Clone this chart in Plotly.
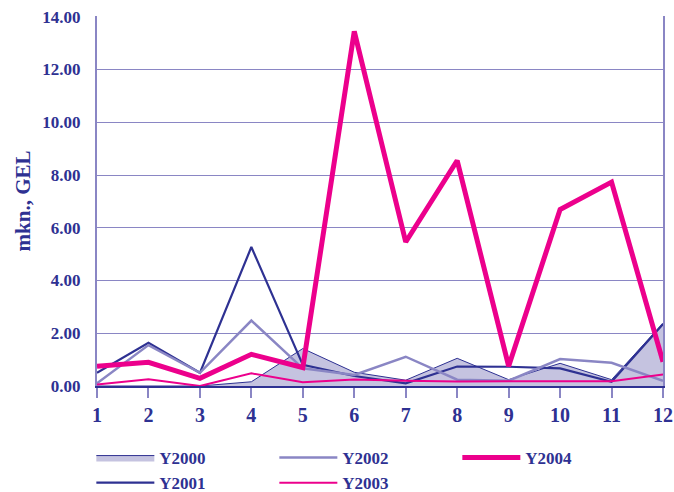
import plotly.graph_objects as go

months = [1, 2, 3, 4, 5, 6, 7, 8, 9, 10, 11, 12]
y2000 = [0.0, 0.0, 0.0, 0.16, 1.42, 0.52, 0.22, 1.05, 0.24, 0.86, 0.24, 2.38]
y2001 = [0.50, 1.64, 0.50, 5.27, 0.80, 0.38, 0.10, 0.74, 0.73, 0.67, 0.16, 2.35]
y2002 = [0.10, 1.55, 0.50, 2.48, 0.67, 0.42, 1.11, 0.24, 0.20, 1.02, 0.88, 0.20]
y2003 = [0.06, 0.26, 0.0, 0.48, 0.14, 0.25, 0.20, 0.17, 0.18, 0.18, 0.18, 0.44]
y2004 = [0.75, 0.90, 0.29, 1.20, 0.70, 13.45, 5.46, 8.55, 0.75, 6.69, 7.73, 0.92]
y_ticks = [0, 2, 4, 6, 8, 10, 12, 14]
y_ticklabels = ["0.00", "2.00", "4.00", "6.00", "8.00", "10.00", "12.00", "14.00"]

NAVY = "#2E3192"
LIGHT = "#8A86C4"
FILL = "#C5C3E0"
MAG = "#EC008C"
FONT = "Liberation Serif"

fig = go.Figure()
fig.add_trace(go.Scatter(x=months, y=y2000, name="Y2000", mode="lines",
                         fill="tozeroy", fillcolor=FILL,
                         line=dict(color=NAVY, width=1), legendrank=1))
fig.add_trace(go.Scatter(x=months, y=y2001, name="Y2001", mode="lines",
                         line=dict(color=NAVY, width=2.2), legendrank=4))
fig.add_trace(go.Scatter(x=months, y=y2002, name="Y2002", mode="lines",
                         line=dict(color=LIGHT, width=2.5), legendrank=2))
fig.add_trace(go.Scatter(x=months, y=y2003, name="Y2003", mode="lines",
                         line=dict(color=MAG, width=2), legendrank=5))
fig.add_trace(go.Scatter(x=months, y=y2004, name="Y2004", mode="lines",
                         line=dict(color=MAG, width=5), legendrank=3))

fig.update_layout(
    width=674, height=492,
    margin=dict(l=97, r=11, t=16, b=106, autoexpand=False),
    plot_bgcolor="white", paper_bgcolor="white",
    font=dict(family=FONT, color=NAVY, weight="bold"),
    legend=dict(orientation="h", x=-0.01, xanchor="left", y=-0.146, yanchor="top",
                entrywidth=110, entrywidthmode="pixels", itemwidth=58,
                font=dict(size=17, family=FONT, color=NAVY, weight="bold"),
                tracegroupgap=0, traceorder="normal"),
    xaxis=dict(range=[1, 12], tickvals=months, ticktext=[str(m) for m in months],
               showgrid=False, zeroline=False, showline=True, linecolor=NAVY,
               linewidth=1.5, ticks="outside", ticklen=10, tickcolor=LIGHT,
               tickwidth=1.5, automargin=False, ticklabeloverflow="allow",
               minor=dict(tickvals=[2, 4, 6, 8, 10], ticks="outside", ticklen=10,
                          tickcolor=NAVY, tickwidth=1.5, showgrid=False),
               tickfont=dict(size=20, family=FONT, color=NAVY, weight="bold")),
    yaxis=dict(range=[0, 14.03], tickvals=y_ticks, ticktext=y_ticklabels,
               showgrid=True, gridcolor=LIGHT, gridwidth=1, zeroline=False,
               showline=True, linecolor=LIGHT, linewidth=2, mirror=True,
               ticks="", ticklabelstandoff=11, automargin=False,
               ticklabeloverflow="allow",
               tickfont=dict(size=17, family=FONT, color=NAVY, weight="bold"),
               title=dict(text="mkn., GEL",
                          font=dict(size=21, family=FONT, color=NAVY, weight="bold"),
                          standoff=6)),
)

fig.write_html("out.html",
               config={"displayModeBar": False},
               post_script="document.body.style.margin='0';document.body.style.overflow='hidden';")
